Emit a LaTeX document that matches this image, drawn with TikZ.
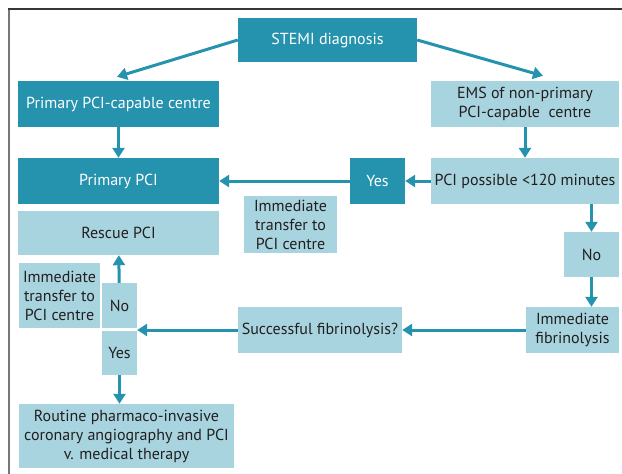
\documentclass[tikz,border=0pt]{standalone}
\usepackage{fontspec}
\setmainfont{PT Sans}
\usetikzlibrary{arrows.meta}
\definecolor{tealdark}{HTML}{2592AE}
\definecolor{teallight}{HTML}{A8D4DF}
\definecolor{inkgray}{HTML}{231F20}
\definecolor{framegray}{HTML}{777777}
\begin{document}
\begin{tikzpicture}[x=1pt, y=-1pt,
		darkbox/.style={fill=tealdark, text=white, inner sep=0pt, align=center, font=\fontsize{16}{19}\selectfont},
		lightbox/.style={fill=teallight, text=inkgray, inner sep=0pt, align=center, font=\fontsize{16}{19}\selectfont},
		flow/.style={draw=tealdark, line width=3pt, -{Triangle[width=12pt,length=10pt]}}]
			\useasboundingbox (0,0) rectangle (622,474);

			% frame
			\draw[framegray, line width=2pt] (8.5,474) -- (8.5,9);
			\draw[inkgray!90, line width=1.3pt] (7.5,9) -- (622,9);

			\node[darkbox, minimum width=179pt, minimum height=44pt] (stemi) at (327.5, 40) {STEMI diagnosis};
			\node[darkbox, minimum width=201pt, minimum height=46pt] (pcc) at (118.5, 104) {Primary PCI-capable centre};
			\node[lightbox, minimum width=188pt, minimum height=46pt] (ems) at (525, 104) {EMS of non-primary\\PCI-capable\ \ centre};
			\node[darkbox, minimum width=201pt, minimum height=46pt] (ppci) at (118.5, 181) {Primary PCI};
			\node[darkbox, minimum width=55pt, minimum height=46pt] (yes1) at (377.5, 181) {Yes};
			\node[lightbox, minimum width=188pt, minimum height=46pt] (poss) at (525, 181) {PCI possible <120 minutes};
			\node[lightbox, minimum width=93pt, minimum height=57pt] (transfer1) at (290.5, 224.5) {Immediate\\transfer to\\PCI centre};
			\node[lightbox, minimum width=201pt, minimum height=44pt] (rescue) at (118.5, 233) {Rescue PCI};
			\node[lightbox, minimum width=55pt, minimum height=45pt] (no1) at (591.5, 254.5) {No};
			\node[lightbox, minimum width=81pt, minimum height=65pt] (transfer2) at (59.5, 295.5) {Immediate\\transfer to\\PCI centre};
			\node[lightbox, minimum width=35pt, minimum height=45pt] (no2) at (119.5, 305.5) {No};
			\node[lightbox, minimum width=35pt, minimum height=44pt] (yes2) at (119.5, 353) {Yes};
			\node[lightbox, minimum width=164pt, minimum height=46pt] (succ) at (320, 330) {Successful fibrinolysis?};
			\node[lightbox, minimum width=93pt, minimum height=46pt] (fib) at (572.5, 330) {Immediate\\fibrinolysis};
			\node[lightbox, minimum width=215pt, minimum height=64pt] (routine) at (126.5, 436) {Routine pharmaco-invasive\\coronary angiography and PCI\\v. medical therapy};

			\draw[flow] (stemi.west) -- ([xshift=-1.5pt, yshift=4pt]pcc.north);
			\draw[flow] (stemi.east) -- ([xshift=18pt, yshift=5pt]ems.north);
			\draw[flow] (pcc) -- (ppci);
			\draw[flow] (ems) -- (poss);
			\draw[flow] (poss) -- (yes1);
			\draw[flow] (yes1) -- (ppci);
			\draw[flow] (no1.north |- poss.south) -- (no1.north);
			\draw[flow] (no1.south) -- (no1.south |- fib.north);
			\draw[flow] (fib) -- (succ);
			\draw[flow] (succ.west) -- (succ.west -| no2.east);
			\draw[flow] (no2) -- (rescue);
			\draw[flow] (yes2.south) -- (yes2.south |- routine.north);
		\end{tikzpicture}
\end{document}
